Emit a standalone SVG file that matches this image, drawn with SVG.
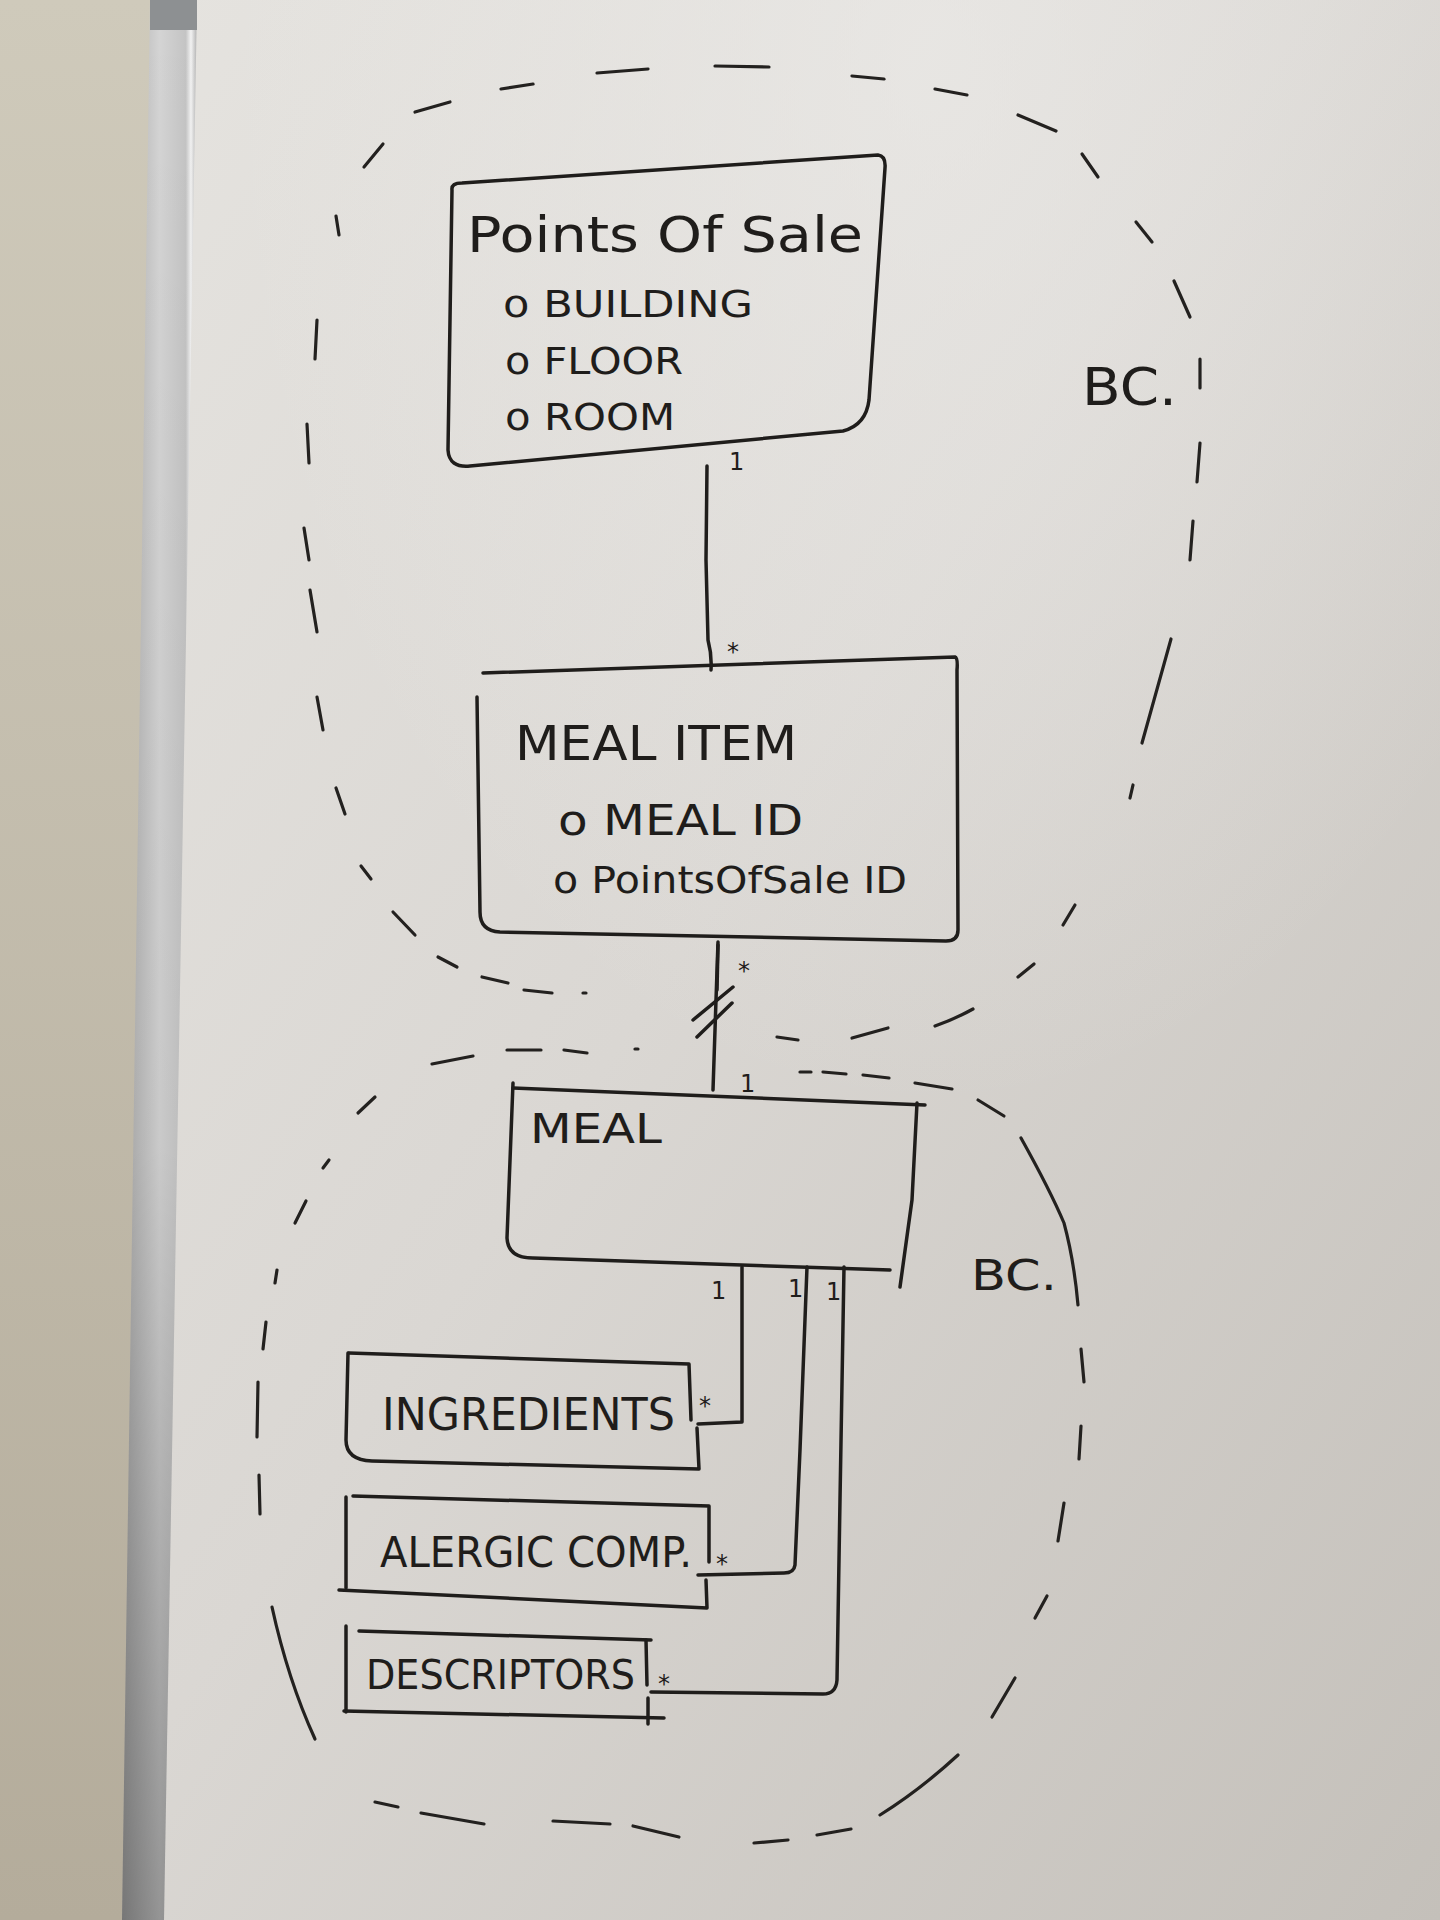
<svg xmlns="http://www.w3.org/2000/svg" width="1440" height="1920" viewBox="0 0 1440 1920">
<defs>
<linearGradient id="board" x1="0" y1="0" x2="1" y2="1">
<stop offset="0" stop-color="#e5e3df"/>
<stop offset="0.45" stop-color="#dad7d3"/>
<stop offset="1" stop-color="#c4c0ba"/>
</linearGradient>
<radialGradient id="glow" cx="0.6" cy="0.03" r="0.55">
<stop offset="0" stop-color="#f0efed" stop-opacity="0.55"/>
<stop offset="1" stop-color="#f0efed" stop-opacity="0"/>
</radialGradient>
<linearGradient id="wall" x1="0" y1="0" x2="0" y2="1">
<stop offset="0" stop-color="#cfcabb"/>
<stop offset="1" stop-color="#b4ac9b"/>
</linearGradient>
<linearGradient id="frame" x1="0" y1="0" x2="1" y2="0">
<stop offset="0" stop-color="#a9a9a9"/>
<stop offset="0.5" stop-color="#d4d4d4"/>
<stop offset="0.85" stop-color="#c4c4c4"/>
<stop offset="0.92" stop-color="#f2f2f2"/>
<stop offset="1" stop-color="#b0b0b0"/>
</linearGradient>
<linearGradient id="frameShade" x1="0" y1="0" x2="0" y2="1">
<stop offset="0" stop-color="#000" stop-opacity="0"/>
<stop offset="0.6" stop-color="#000" stop-opacity="0.05"/>
<stop offset="1" stop-color="#000" stop-opacity="0.3"/>
</linearGradient>
</defs>
<style>
.ink{fill:none;stroke:#1f1d1b;stroke-width:3.5;stroke-linecap:round;stroke-linejoin:round}
.dash{fill:none;stroke:#23211f;stroke-width:3.2;stroke-linecap:round}
.t{font-family:"DejaVu Sans","Liberation Sans",sans-serif;fill:#1f1d1b}
.lbl{font-family:"DejaVu Sans","Liberation Sans",sans-serif;fill:#1f1d1b;font-size:24px}
</style>
<rect x="0" y="0" width="1440" height="1920" fill="url(#wall)"/>
<polygon points="196,0 1440,0 1440,1920 163,1920" fill="url(#board)"/>
<polygon points="196,0 1440,0 1440,1920 163,1920" fill="url(#glow)"/>
<polygon points="150,0 197,0 164,1920 122,1920" fill="url(#frame)"/>
<polygon points="150,0 197,0 164,1920 122,1920" fill="url(#frameShade)"/>
<rect x="150" y="0" width="47" height="30" fill="#8d9092"/>

<g id="boundary-top">
<path class="dash" d="M415,112 L450,102"/>
<path class="dash" d="M364,167 L383,144"/>
<path class="dash" d="M501,89 L533,84"/>
<path class="dash" d="M597,73 L648,69"/>
<path class="dash" d="M715,66 L769,67"/>
<path class="dash" d="M852,76 L884,79"/>
<path class="dash" d="M935,89 L967,95"/>
<path class="dash" d="M1018,115 L1056,131"/>
<path class="dash" d="M1082,154 L1098,177"/>
<path class="dash" d="M1136,222 L1152,242"/>
<path class="dash" d="M1174,281 L1190,317"/>
<path class="dash" d="M1200,359 L1200,388"/>
<path class="dash" d="M1200,443 L1197,482"/>
<path class="dash" d="M1193,521 L1190,560"/>
<path class="dash" d="M1171,639 L1142,743"/>
<path class="dash" d="M1133,785 L1130,798"/>
<path class="dash" d="M1075,905 L1063,925"/>
<path class="dash" d="M1034,964 L1018,977"/>
<path class="dash" d="M973,1009 Q955,1019 935,1026"/>
<path class="dash" d="M888,1028 L852,1038"/>
<path class="dash" d="M798,1040 L777,1037"/>
<path class="dash" d="M336,216 L339,235"/>
<path class="dash" d="M317,320 L315,359"/>
<path class="dash" d="M307,424 L309,463"/>
<path class="dash" d="M304,528 L309,560"/>
<path class="dash" d="M310,590 L317,632"/>
<path class="dash" d="M317,697 L323,730"/>
<path class="dash" d="M336,788 L345,814"/>
<path class="dash" d="M361,866 L371,879"/>
<path class="dash" d="M393,912 L415,935"/>
<path class="dash" d="M438,957 L457,967"/>
<path class="dash" d="M482,977 L508,983"/>
<path class="dash" d="M524,990 L552,993"/>
<path class="dash" d="M583,993 L586,993"/>
<text class="t" x="1082" y="405" font-size="52" textLength="95" lengthAdjust="spacingAndGlyphs">BC.</text>
</g>

<g id="boundary-bottom">
<path class="dash" d="M432,1064 L473,1056"/>
<path class="dash" d="M507,1050 L541,1050"/>
<path class="dash" d="M564,1050 L587,1053"/>
<path class="dash" d="M635,1049 L638,1049"/>
<path class="dash" d="M800,1072 L811,1072"/>
<path class="dash" d="M823,1072 L846,1074"/>
<path class="dash" d="M863,1075 L889,1078"/>
<path class="dash" d="M915,1083 L952,1089"/>
<path class="dash" d="M978,1100 L1004,1116"/>
<path class="dash" d="M1021,1138 Q1050,1190 1064,1223 Q1074,1260 1078,1305"/>
<path class="dash" d="M1081,1349 L1084,1382"/>
<path class="dash" d="M1081,1426 L1079,1459"/>
<path class="dash" d="M1064,1503 L1058,1541"/>
<path class="dash" d="M1047,1596 L1035,1618"/>
<path class="dash" d="M1015,1678 L992,1717"/>
<path class="dash" d="M958,1755 Q920,1790 880,1815"/>
<path class="dash" d="M851,1829 L817,1835"/>
<path class="dash" d="M788,1840 L754,1843"/>
<path class="dash" d="M679,1837 L633,1826"/>
<path class="dash" d="M610,1824 L553,1821"/>
<path class="dash" d="M484,1824 L421,1813"/>
<path class="dash" d="M398,1807 L375,1802"/>
<path class="dash" d="M315,1739 Q288,1680 272,1607"/>
<path class="dash" d="M260,1514 L259,1475"/>
<path class="dash" d="M257,1437 L258,1382"/>
<path class="dash" d="M263,1349 L266,1322"/>
<path class="dash" d="M275,1283 L277,1270"/>
<path class="dash" d="M295,1223 L306,1201"/>
<path class="dash" d="M323,1168 L329,1160"/>
<path class="dash" d="M358,1113 L375,1097"/>
<text class="t" x="971" y="1290" font-size="42" textLength="86" lengthAdjust="spacingAndGlyphs">BC.</text>
</g>

<g id="node-points-of-sale">
<path class="ink" d="M452,190 Q451,183 462,183 L878,155 Q886,156 885,168 L869,400 Q866,425 843,431 L470,466 Q449,468 448,450 Z"/>
<text class="t" x="467" y="252" font-size="50" textLength="396" lengthAdjust="spacingAndGlyphs">Points Of Sale</text>
<text class="t" x="503" y="317" font-size="38" textLength="250" lengthAdjust="spacingAndGlyphs">o BUILDING</text>
<text class="t" x="505" y="374" font-size="38" textLength="178" lengthAdjust="spacingAndGlyphs">o FLOOR</text>
<text class="t" x="505" y="430" font-size="38" textLength="170" lengthAdjust="spacingAndGlyphs">o ROOM</text>
</g>

<g id="node-meal-item">
<path class="ink" d="M483,673 L955,657 Q958,658 957,670 L958,930 Q958,941 946,941 L500,932 Q480,931 480,912 L477,697"/>
<text class="t" x="515" y="760" font-size="48" textLength="282" lengthAdjust="spacingAndGlyphs">MEAL ITEM</text>
<text class="t" x="558" y="835" font-size="42" textLength="245" lengthAdjust="spacingAndGlyphs">o MEAL ID</text>
<text class="t" x="553" y="893" font-size="38" textLength="354" lengthAdjust="spacingAndGlyphs">o PointsOfSale ID</text>
</g>

<g id="node-meal">
<path class="ink" d="M513,1088 L925,1105"/>
<path class="ink" d="M513,1083 L507,1238 Q508,1258 533,1258 L890,1270"/>
<path class="ink" d="M917,1103 L912,1200 L900,1287"/>
<text class="t" x="530" y="1143" font-size="40" textLength="132" lengthAdjust="spacingAndGlyphs">MEAL</text>
</g>

<g id="node-ingredients">
<path class="ink" d="M349,1353 L689,1364 L691,1420"/>
<path class="ink" d="M697,1428 L699,1469 L372,1461 Q346,1460 346,1440 L348,1353"/>
<text class="t" x="382" y="1430" font-size="44" textLength="293" lengthAdjust="spacingAndGlyphs">INGREDIENTS</text>
</g>

<g id="node-alergic-comp">
<path class="ink" d="M353,1496 L709,1506 L709,1562"/>
<path class="ink" d="M706,1580 L707,1608 L339,1590"/>
<path class="ink" d="M346,1497 L346,1588"/>
<text class="t" x="380" y="1567" font-size="42" textLength="312" lengthAdjust="spacingAndGlyphs">ALERGIC  COMP.</text>
</g>

<g id="node-descriptors">
<path class="ink" d="M359,1631 L651,1640"/>
<path class="ink" d="M346,1626 L346,1712"/>
<path class="ink" d="M344,1711 L664,1718"/>
<path class="ink" d="M646,1640 L647,1685"/>
<path class="ink" d="M648,1698 L648,1724"/>
<text class="t" x="366" y="1689" font-size="40" textLength="269" lengthAdjust="spacingAndGlyphs">DESCRIPTORS</text>
</g>

<g id="connectors">
<path class="ink" d="M707,466 L706,560 L708,640 Q712,655 711,670"/>
<text class="lbl" x="729" y="470" font-size="26">1</text>
<text class="lbl" x="727" y="660" font-size="32">*</text>
<path class="ink" d="M718,942 L716,1000 L713,1090"/>
<path class="ink" d="M718,945 L717,990" stroke-width="6"/>
<path class="ink" d="M693,1020 L733,987"/>
<path class="ink" d="M697,1037 L732,1003"/>
<text class="lbl" x="738" y="979" font-size="32">*</text>
<text class="lbl" x="740" y="1092" font-size="32">1</text>
<path class="ink" d="M742,1267 L742,1422 L698,1424"/>
<path class="ink" d="M807,1267 L800,1450 L795,1565 Q794,1573 784,1573 L698,1575"/>
<path class="ink" d="M844,1267 L840,1500 L837,1680 Q836,1694 823,1694 L651,1692"/>
<text class="lbl" x="711" y="1299" font-size="22">1</text>
<text class="lbl" x="788" y="1297" font-size="22">1</text>
<text class="lbl" x="826" y="1300" font-size="24">1</text>
<text class="lbl" x="699" y="1414" font-size="26">*</text>
<text class="lbl" x="716" y="1572" font-size="26">*</text>
<text class="lbl" x="658" y="1692" font-size="26">*</text>
</g>
</svg>
